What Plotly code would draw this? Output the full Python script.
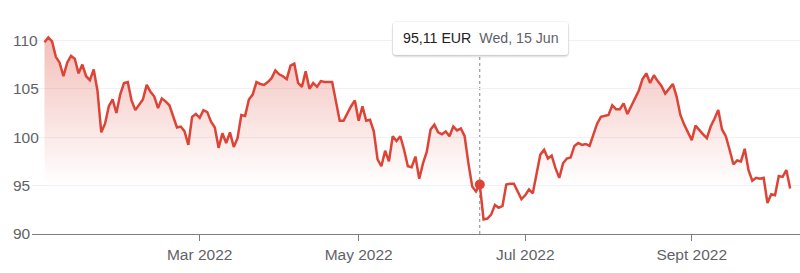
import pandas as pd
import plotly.graph_objects as go

# ---- data -------------------------------------------------------------
holidays = ["2022-04-15", "2022-04-18"]
dates = [d.strftime("%Y-%m-%d") for d in pd.bdate_range("2022-01-03", "2022-10-07")
         if d.strftime("%Y-%m-%d") not in holidays]

prices = [
    109.8, 110.3, 109.9, 108.3, 107.7, 106.3, 107.7, 108.4, 108.1, 106.6,
    107.5, 106.3, 105.9, 107.0, 104.8, 100.5, 101.4, 103.2, 103.9, 102.5,
    104.4, 105.6, 105.7, 103.8, 102.8, 103.4, 103.9, 105.4, 104.7, 104.2,
    103.0, 104.0, 103.7, 103.3, 102.1, 101.0, 101.1, 100.6, 99.2, 102.1,
    102.4, 102.0, 102.8, 102.6, 101.6, 101.0, 98.9, 100.4, 99.4, 100.5,
    99.0, 99.9, 102.3, 102.2, 103.9, 104.4, 105.7, 105.5, 105.4, 105.7,
    106.1, 106.9, 106.5, 106.3, 106.0, 107.4, 107.6, 105.6, 105.2, 106.8,
    105.0, 105.6, 105.2, 105.8, 105.7, 105.7, 105.7, 103.7, 101.7, 101.7,
    102.5, 103.2, 103.8, 101.7, 103.2, 101.7, 101.8, 100.6, 97.7, 97.0,
    98.6, 97.5, 100.1, 99.6, 100.1, 98.7, 97.0, 96.9, 98.0, 95.7,
    97.3, 98.5, 100.8, 101.3, 100.5, 100.3, 100.6, 100.1, 101.1, 100.7,
    100.9, 100.1, 97.3, 94.9, 94.4, 95.11, 91.5, 91.6, 92.0, 93.0,
    92.7, 92.9, 95.1, 95.2, 95.2, 94.4, 93.6, 94.0, 94.6, 94.2,
    96.3, 98.2, 98.7, 97.8, 98.1, 96.8, 95.8, 97.3, 97.8, 97.9,
    99.1, 99.4, 99.2, 99.3, 99.1, 100.2, 101.4, 102.1, 102.2, 102.3,
    103.3, 102.9, 102.9, 103.5, 102.4, 103.2, 103.9, 104.8, 106.0, 106.6,
    105.6, 106.4, 105.8, 105.3, 104.5, 105.0, 105.5, 104.2, 102.3, 101.3,
    100.5, 99.7, 101.2, 100.7, 100.3, 99.9, 101.1, 101.9, 102.8, 100.8,
    100.1, 98.7, 97.2, 97.6, 97.5, 98.8, 96.6, 95.5, 95.8, 95.7,
    95.8, 93.2, 94.1, 94.0, 96.0, 95.9, 96.6, 94.7,
]
assert len(dates) == len(prices)

tick_dates = ["2022-03-01", "2022-05-02", "2022-07-01", "2022-09-01"]
tick_labels = ["Mar 2022", "May 2022", "Jul 2022", "Sept 2022"]
y_ticks = [90, 95, 100, 105, 110]
hover_idx = 115
currency = "EUR"

# ---- styling helpers ---------------------------------------------------
W, H = 800, 273
MT, MB = 0, 39
PLOT_H = H - MT - MB
RED = "#db4437"
FONT = "Liberation Sans, Arial, sans-serif"
TICK_COLOR = "#5f6368"


def px_x(px):
    return px / W


def px_y(py):
    return (H - MB - py) / PLOT_H


def rounded_rect(x0, y0, x1, y1, r):
    # pixel coordinates -> paper path with rounded corners
    rx, ry = r / W, r / PLOT_H
    X0, X1 = px_x(x0), px_x(x1)
    Y0, Y1 = px_y(y1), px_y(y0)  # Y0 bottom, Y1 top
    return (f"M{X0+rx},{Y1} L{X1-rx},{Y1} Q{X1},{Y1} {X1},{Y1-ry} "
            f"L{X1},{Y0+ry} Q{X1},{Y0} {X1-rx},{Y0} L{X0+rx},{Y0} "
            f"Q{X0},{Y0} {X0},{Y0+ry} L{X0},{Y1-ry} Q{X0},{Y1} {X0+rx},{Y1} Z")


fig = go.Figure()
fig.add_trace(go.Scatter(
    x=dates, y=prices, mode="lines",
    line=dict(color=RED, width=2.5),
    fill="tozeroy",
    fillgradient=dict(type="vertical", start=95, stop=111,
                      colorscale=[[0, "rgba(219,68,55,0)"],
                                  [1, "rgba(219,68,55,0.36)"]]),
    hoverinfo="skip",
))
fig.add_trace(go.Scatter(
    x=[dates[hover_idx]], y=[prices[hover_idx]], mode="markers",
    marker=dict(color=RED, size=10),
    hoverinfo="skip",
))

# dotted hover line
fig.add_shape(type="line", xref="x", yref="paper",
              x0=dates[hover_idx], x1=dates[hover_idx], y0=0, y1=px_y(56),
              line=dict(color="#80868b", width=1, dash="dot"), layer="below")

# tooltip box with soft shadow
bx0, by0, bx1, by1 = 392.5, 21.5, 568.5, 55
for off, a in [(3, 0.04), (2, 0.06), (1, 0.08)]:
    fig.add_shape(type="path", xref="paper", yref="paper",
                  path=rounded_rect(bx0 - off * 0.3, by0 + off * 0.3,
                                    bx1 + off * 0.3, by1 + off, 3 + off),
                  fillcolor=f"rgba(0,0,0,{a})", line=dict(width=0), layer="above")
fig.add_shape(type="path", xref="paper", yref="paper",
              path=rounded_rect(bx0, by0, bx1, by1, 3),
              fillcolor="white", line=dict(color="rgba(0,0,0,0.08)", width=0.5),
              layer="above")

d = pd.Timestamp(dates[hover_idx])
price_txt = f"{prices[hover_idx]:.2f}".replace(".", ",") + f" {currency}"
date_txt = f"{d.strftime('%a')}, {d.day} {d.strftime('%b')}"
fig.add_annotation(
    xref="paper", yref="paper", x=px_x(401), y=px_y(38.3),
    xanchor="left", yanchor="middle", showarrow=False,
    text=(f"<span style='color:#202124'>{price_txt}</span>&nbsp;&nbsp;"
          f"<span style='color:#5f6368'>{date_txt}</span>"),
    font=dict(family=FONT, size=14.2),
)

fig.update_layout(
    width=W, height=H,
    margin=dict(l=0, r=0, t=MT, b=MB, autoexpand=False),
    paper_bgcolor="white", plot_bgcolor="white",
    showlegend=False, hovermode=False,
    font=dict(family=FONT, size=15.5, color=TICK_COLOR),
    xaxis=dict(
        type="category", domain=[32 / W, 1], range=[-3.3, 199.6],
        tickmode="array", tickvals=tick_dates, ticktext=tick_labels,
        ticks="outside", ticklen=6, tickcolor="#7a7f84", tickwidth=1,
        showline=True, linecolor="#7a7f84", linewidth=1,
        showgrid=False, zeroline=False, fixedrange=True,
        tickfont=dict(family=FONT, size=15.5, color=TICK_COLOR),
    ),
    yaxis=dict(
        range=[90, 90 + PLOT_H / 9.68], tickmode="array", tickvals=y_ticks,
        side="right", anchor="free", position=12 / W,
        showgrid=True, gridcolor="#f1f1f1", gridwidth=1,
        zeroline=False, showline=False, ticks="", fixedrange=True,
        tickfont=dict(family=FONT, size=15.5, color=TICK_COLOR),
    ),
)

fig.write_html("out.html")
